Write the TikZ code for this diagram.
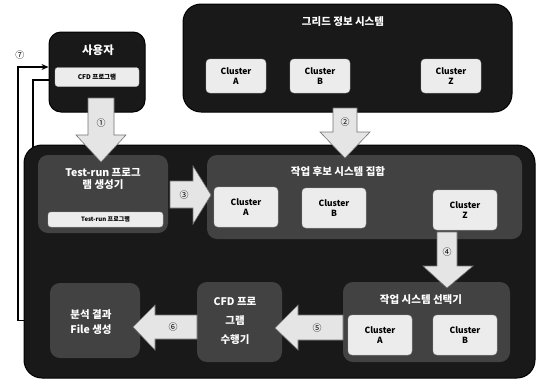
\documentclass[tikz,border=0pt]{standalone}
\usepackage{fontspec}
\setmainfont{Noto Sans CJK KR}
\usetikzlibrary{arrows.meta}
\begin{document}
\begin{tikzpicture}[x=1pt,y=-1pt,
  outer/.style={draw=black, line width=1pt, fill=black!90, rounded corners=18pt, minimum width=#1},
  panel/.style={fill=black!74, rounded corners=10pt},
  clus/.style={fill=gray!15, draw=gray!55, rounded corners=4pt, text=black, font=\bfseries\fontsize{8.5}{10}\selectfont, align=center, inner sep=0pt, minimum width=60pt, minimum height=36pt},
  litebox/.style={fill=gray!15, draw=gray!55, rounded corners=3pt, text=black, inner sep=0pt},
  ttl/.style={text=white, font=\bfseries\fontsize{10.5}{12.5}\selectfont, align=center},
  blk/.style={fill=gray!20, draw=black!55, line width=0.6pt},
  num/.style={font=\fontsize{9}{10}\selectfont, text=black},
  conn/.style={line width=1.3pt, draw=black}]
\useasboundingbox (0,0) rectangle (544,384);

% feedback connectors (drawn under the boxes)
\node[outer=511pt, minimum height=233pt, draw=none, fill=none] (mainref) at (279.5,261.5) {};
\node[outer=96pt, minimum height=80pt, draw=none, fill=none] (userref) at (97,72) {};
\node[panel, minimum width=90pt, minimum height=75pt, fill=none] (anref) at (95,320.5) {};
\draw[conn, -{Stealth[length=7pt,width=6pt]}] (anref.west) -- (18,320.5) -- (18,67) -- (userref.west |- 0,67);
\draw[conn] (mainref.north -| 33,0) ++(0,8) -- (33,80) -- (userref.west |- 0,80);
\node[num] (n7) at (20,55) {⑦};

% main container
\node[outer=511pt, minimum height=233pt] (main) at (279.5,261.5) {};
% grid info system
\node[outer=329pt, minimum height=108pt] (grid) at (347.5,58) {};
\node[ttl] (gridt) at (343,22) {그리드 정보 시스템};
\node[clus, minimum height=34pt] (gA) at (236,76) {Cluster\\A};
\node[clus, minimum height=34pt] (gB) at (320,76) {Cluster\\B};
\node[clus, minimum height=34pt] (gZ) at (451,76) {Cluster\\Z};
% user
\node[outer=96pt, minimum height=80pt, rounded corners=12pt] (user) at (97,72) {};
\node[ttl, font=\bfseries\fontsize{11.5}{13}\selectfont] (usert) at (98,50) {사용자};
\node[litebox, minimum width=84pt, minimum height=19pt, font=\bfseries\fontsize{6.5}{8}\selectfont] (cfdprog) at (97,77) {CFD 프로그램};

% inner panels
\node[panel, minimum width=130pt, minimum height=78pt] (testgen) at (103,194) {};
\node[ttl] (testgent) at (103,179) {Test-run 프로그\\램 생성기};
\node[litebox, minimum width=115pt, minimum height=15pt, font=\bfseries\fontsize{6}{7}\selectfont] (testprog) at (105.5,219.5) {Test-run 프로그램};

\node[panel, minimum width=315pt, minimum height=84pt] (cand) at (364.5,197) {};
\node[ttl] (candt) at (338,172) {작업 후보 시스템 집합};
\node[clus, minimum width=64pt, minimum height=40pt] (cA) at (246,207) {Cluster\\A};
\node[clus, minimum width=64pt, minimum height=40pt] (cB) at (334,208) {Cluster\\B};
\node[clus, minimum width=64pt, minimum height=40pt] (cZ) at (465,210) {Cluster\\Z};

\node[panel, minimum width=167pt, minimum height=80pt] (sel) at (426.5,322) {};
\node[ttl] (selt) at (421,300) {작업 시스템 선택기};
\node[clus, minimum width=64pt, minimum height=40pt] (sA) at (380,335) {Cluster\\A};
\node[clus, minimum width=64pt, minimum height=40pt] (sB) at (465,335) {Cluster\\B};

\node[panel, minimum width=85pt, minimum height=80pt] (exec) at (239.5,322) {};
\node[ttl, font=\bfseries\fontsize{10.5}{19}\selectfont] (exect) at (235,321) {CFD 프로\\그램\\수행기};

\node[panel, minimum width=90pt, minimum height=75pt] (an) at (95,320.5) {};
\node[ttl, font=\bfseries\fontsize{10.5}{15}\selectfont] (ant) at (91,322) {분석 결과\\File 생성};

% block arrows
\draw[blk] (88,98) -- (114,98) -- (114,135) -- (126,135) -- (101,162) -- (76,135) -- (88,135) -- cycle;
\node[num] (n1) at (101,123) {①};
\draw[blk] (333,108) -- (357,108) -- (357,132) -- (370,132) -- (345,158) -- (320,132) -- (333,132) -- cycle;
\node[num] (n2) at (345,122) {②};
\draw[blk] (170,181) -- (193,181) -- (193,166) -- (211,195) -- (193,224) -- (193,208) -- (170,208) -- cycle;
\node[num] (n3) at (184,195) {③};
\draw[blk] (437,232) -- (457,232) -- (457,266) -- (473,266) -- (447,288) -- (423,266) -- (437,266) -- cycle;
\node[num] (n4) at (447,252) {④};
\draw[blk] (343,315) -- (298,315) -- (298,305) -- (275,328) -- (298,350) -- (298,340) -- (343,340) -- cycle;
\node[num] (n5) at (317,328) {⑤};
\draw[blk] (197,315) -- (155,315) -- (155,305) -- (133,327) -- (155,350) -- (155,339) -- (197,339) -- cycle;
\node[num] (n6) at (173,327) {⑥};
\end{tikzpicture}
\end{document}
